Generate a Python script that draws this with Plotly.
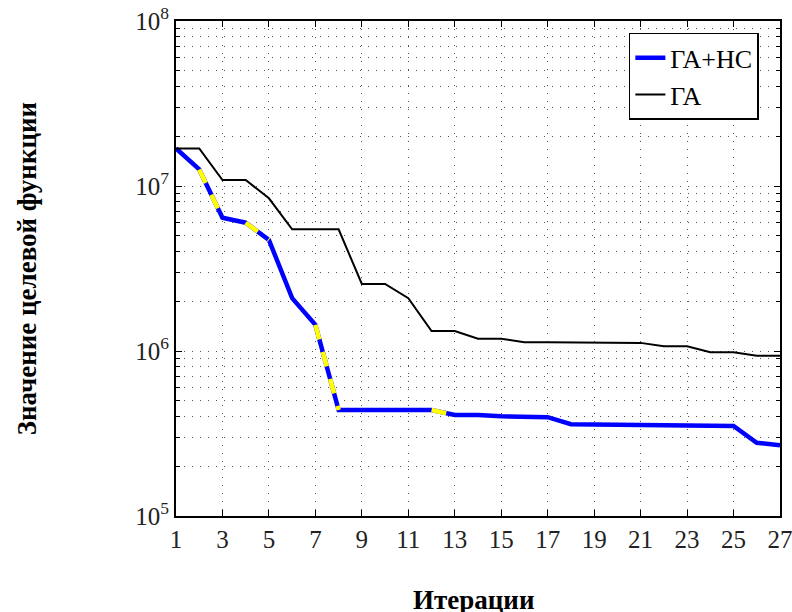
import plotly.graph_objects as go

iterations = list(range(1, 28))
ga_ns = [1.69e7, 1.26e7, 6.42e6, 5.99e6, 4.71e6, 2.09e6, 1.44e6, 4.39e5, 4.39e5, 4.39e5,
         4.39e5, 4.39e5, 4.09e5, 4.09e5, 4.02e5, 4.01e5, 3.97e5, 3.60e5, 3.58e5, 3.58e5,
         3.56e5, 3.53e5, 3.52e5, 3.52e5, 3.51e5, 2.78e5, 2.68e5]
ga = [1.69e7, 1.69e7, 1.087e7, 1.087e7, 8.42e6, 5.46e6, 5.46e6, 5.46e6, 2.55e6, 2.55e6,
      2.09e6, 1.32e6, 1.32e6, 1.188e6, 1.188e6, 1.13e6, 1.13e6, 1.13e6, 1.125e6, 1.12e6,
      1.12e6, 1.067e6, 1.067e6, 9.82e5, 9.82e5, 9.37e5, 9.37e5]
highlight_starts = [2, 4, 7, 12]
x_ticks = list(range(1, 28, 2))
y_major = [1e5, 1e6, 1e7, 1e8]
y_major_text = ["10<sup>5</sup>", "10<sup>6</sup>", "10<sup>7</sup>", "10<sup>8</sup>"]
y_minor = [m * 10 ** e for e in (5, 6, 7) for m in range(2, 10)]
names = ["ГА+НС", "ГА"]

FONT = "Liberation Serif, Times New Roman, serif"

fig = go.Figure()
fig.add_trace(go.Scatter(x=iterations, y=ga_ns, mode="lines", name=names[0],
                         line=dict(color="#0000ff", width=4.5)))
for s in highlight_starts:
    i = iterations.index(s)
    fig.add_trace(go.Scatter(x=iterations[i:i + 2], y=ga_ns[i:i + 2], mode="lines",
                             showlegend=False, hoverinfo="skip",
                             line=dict(color="#ffff00", width=4.5, dash="15px,13px")))
fig.add_trace(go.Scatter(x=iterations, y=ga, mode="lines", name=names[1],
                         line=dict(color="black", width=2)))

grid_dash = "1px,7px"
fig.update_xaxes(range=[1, 27], tickvals=x_ticks, ticks="inside", ticklen=6,
                 tickcolor="black", showline=True, linecolor="black", linewidth=2,
                 mirror="allticks", showgrid=True, gridcolor="#555", gridwidth=1,
                 griddash=grid_dash, zeroline=False, automargin=False,
                 ticklabeloverflow="allow",
                 tickfont=dict(family=FONT, size=25, color="#222"))
fig.update_yaxes(type="log", range=[5, 8], tickvals=y_major, ticktext=y_major_text,
                 ticks="inside", ticklen=6, tickcolor="black", showline=True,
                 linecolor="black", linewidth=2, mirror="allticks", showgrid=True,
                 gridcolor="#555", gridwidth=1, griddash=grid_dash, automargin=False,
                 ticklabeloverflow="allow",
                 tickfont=dict(family=FONT, size=25, color="#222"),
                 minor=dict(tickvals=y_minor, ticks="inside", ticklen=4, tickcolor="black",
                            showgrid=True, gridcolor="#555", gridwidth=1, griddash=grid_dash))

fig.update_layout(
    width=792, height=612,
    margin=dict(l=176, r=12, t=21, b=96, autoexpand=False),
    plot_bgcolor="white", paper_bgcolor="white",
    font=dict(family=FONT, color="black"),
    showlegend=True,
    legend=dict(x=0.965, y=0.976, xanchor="right", yanchor="top",
                bgcolor="white", bordercolor="black", borderwidth=1.5,
                font=dict(family=FONT, size=26, color="black"),
                tracegroupgap=0, itemwidth=30),
    annotations=[
        dict(text="<b>Итерации</b>", xref="paper", yref="paper", x=0.492, y=-0.169,
             yanchor="middle", xanchor="center", showarrow=False,
             font=dict(family=FONT, size=27, color="black")),
        dict(text="<b>Значение целевой функции</b>", xref="paper", yref="paper",
             x=-0.247, y=0.5, textangle=-90, xanchor="center", yanchor="middle",
             showarrow=False, font=dict(family=FONT, size=27, color="black")),
    ],
)

fig.write_html("out.html", config={"displayModeBar": False},
               post_script="document.body.style.margin='0';"
                           "document.body.style.padding='0';")
